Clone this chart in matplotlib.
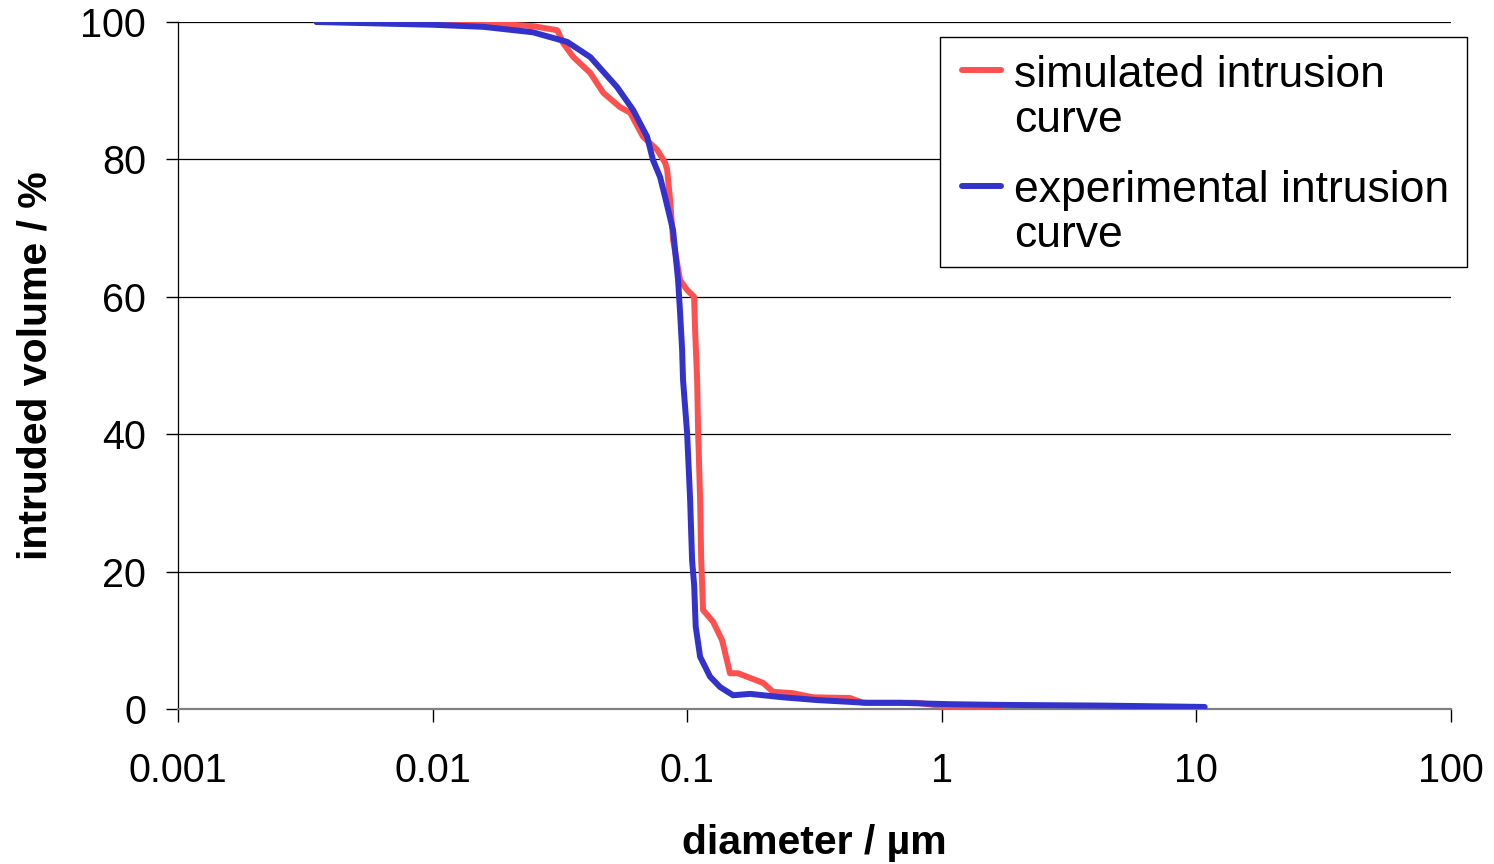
import matplotlib
matplotlib.use("Agg")
import matplotlib.pyplot as plt
from matplotlib.lines import Line2D
from matplotlib.patches import Rectangle

plt.rcParams["font.family"] = ["Liberation Sans", "DejaVu Sans"]

# Pore diameter (µm) and cumulative intruded volume (%)
sim_diameter = [0.0035, 0.0137, 0.0248, 0.0309, 0.0326, 0.0357, 0.0416, 0.0468,
                0.0545, 0.0597, 0.0671, 0.0762, 0.0819, 0.0834, 0.0857, 0.0880,
                0.0938, 0.0999, 0.1064, 0.1074, 0.1094, 0.1104, 0.1124, 0.1135,
                0.1154, 0.1264, 0.1371, 0.1473, 0.1584, 0.1986, 0.2173, 0.2604,
                0.3120, 0.4358, 0.4901, 0.7987, 1.076, 1.69]
sim_volume = [100.0, 100.0, 99.4, 98.8, 96.9, 94.9, 92.6, 89.7,
              87.6, 86.8, 83.3, 81.4, 79.5, 78.5, 74.0, 68.3,
              62.4, 61.0, 60.0, 55.2, 47.9, 40.2, 30.4, 21.7,
              14.4, 12.7, 10.0, 5.2, 5.2, 3.8, 2.5, 2.3,
              1.7, 1.6, 0.9, 0.9, 0.3, 0.1]

exp_diameter = [0.0035, 0.0100, 0.0158, 0.0248, 0.0338, 0.0416, 0.0531, 0.0613,
                0.0696, 0.0734, 0.0783, 0.0819, 0.0880, 0.0921, 0.0938, 0.0955,
                0.0963, 0.0999, 0.1027, 0.1045, 0.1065, 0.1080, 0.1124, 0.1230,
                0.1346, 0.1514, 0.1766, 0.2379, 0.3235, 0.5082, 0.6846, 1.076,
                1.69, 4.174, 10.78]
exp_volume = [100.0, 99.6, 99.3, 98.5, 97.1, 94.9, 90.5, 87.2,
              83.3, 79.9, 77.4, 74.5, 69.7, 62.4, 57.6, 52.3,
              47.9, 40.2, 30.4, 21.7, 18.0, 12.0, 7.6, 4.7,
              3.2, 2.0, 2.2, 1.7, 1.3, 0.9, 0.9, 0.7,
              0.6, 0.5, 0.3]

x_ticks = [0.001, 0.01, 0.1, 1, 10, 100]
x_tick_labels = ["0.001", "0.01", "0.1", "1", "10", "100"]
y_ticks = [0, 20, 40, 60, 80, 100]

series_labels = ["simulated intrusion\ncurve", "experimental intrusion\ncurve"]
series_colors = ["#FF5050", "#3333CC"]

W, H = 1494, 864
fig = plt.figure(figsize=(W / 100, H / 100), dpi=100)
ax = fig.add_axes([178 / W, 1 - 709 / H, (1451 - 178) / W, (709 - 22) / H])

ax.plot(sim_diameter, sim_volume, color=series_colors[0], lw=4.3,
        solid_joinstyle="round", solid_capstyle="round", zorder=3)
ax.plot(exp_diameter, exp_volume, color=series_colors[1], lw=4.3,
        solid_joinstyle="round", solid_capstyle="round", zorder=4)

ax.set_xscale("log")
ax.set_xlim(0.001, 100)
ax.set_ylim(0, 100)
ax.set_xticks(x_ticks)
ax.set_xticklabels(x_tick_labels)
ax.minorticks_off()
ax.set_yticks(y_ticks)

for v in y_ticks[1:]:
    ax.axhline(v, color="black", lw=0.9, zorder=1)

for side in ("top", "right"):
    ax.spines[side].set_visible(False)
ax.spines["left"].set_color("black")
ax.spines["left"].set_linewidth(0.9)
ax.spines["bottom"].set_color("#808080")
ax.spines["bottom"].set_linewidth(1.6)

ax.tick_params(axis="x", direction="out", length=9, width=1, color="black",
               labelsize=28.5, pad=22)
ax.tick_params(axis="y", direction="out", length=9, width=1, color="black",
               labelsize=28.5, pad=14)

ax.set_xlabel("diameter / µm", fontsize=29.5, fontweight="bold")
ax.xaxis.set_label_coords(0.5, -0.168)
ax.set_ylabel("intruded volume / %", fontsize=29.5, fontweight="bold")
ax.yaxis.set_label_coords(-0.097, 0.5)

# Legend box, drawn in figure pixels
def fx(px):
    return px / W

def fy(py):
    return 1 - py / H

fig.add_artist(Rectangle((fx(940), fy(267)), fx(1467) - fx(940), fy(37) - fy(267),
                         transform=fig.transFigure, facecolor="white",
                         edgecolor="black", lw=1.0, zorder=5))
for label, color, handle_y, text_y in zip(series_labels, series_colors,
                                          [70, 186], [55, 170]):
    fig.add_artist(Line2D([fx(962), fx(1001)], [fy(handle_y), fy(handle_y)],
                          transform=fig.transFigure, color=color, lw=4.3,
                          solid_capstyle="round", zorder=6))
    fig.text(fx(1014), fy(text_y), label, fontsize=32, va="top", ha="left",
             linespacing=1.14, zorder=6)

fig.savefig("out.png", dpi=100)
